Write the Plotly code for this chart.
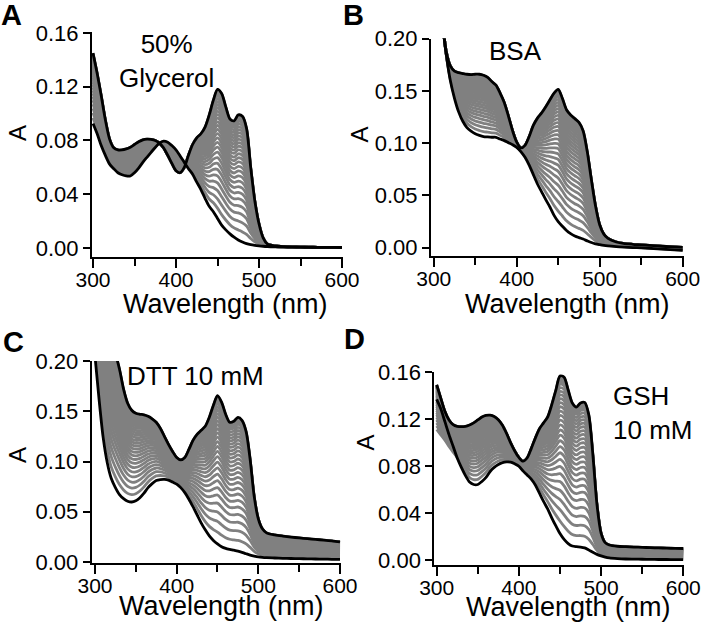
import plotly.graph_objects as go

# ---------------- data ----------------
wavelength = [300, 305, 310, 315, 320, 325, 330, 335, 340, 345, 350, 355, 360, 365, 370,
              375, 380, 385, 390, 395, 400, 405, 410, 415, 420, 425, 430, 435, 440, 445,
              450, 455, 460, 465, 470, 475, 480, 485, 490, 495, 500, 505, 510, 520, 530,
              540, 550, 560, 570, 580, 590, 600]

# Panel A: 50% glycerol
glycerol_peaked = [0.145, 0.130, 0.113, 0.095, 0.081, 0.0745, 0.073, 0.073, 0.0737, 0.075, 0.077, 0.079, 0.0805, 0.081, 0.0808,
                   0.080, 0.078, 0.0745, 0.069, 0.063, 0.0575, 0.056, 0.060, 0.069, 0.077, 0.082, 0.085, 0.090, 0.099, 0.110,
                   0.118, 0.115, 0.105, 0.096, 0.0946, 0.099, 0.098, 0.089, 0.060, 0.035, 0.018, 0.0075, 0.003, 0.0015, 0.001,
                   0.0008, 0.0007, 0.0006, 0.0005, 0.0005, 0.0004, 0.0004]
glycerol_flat = [0.0926, 0.085, 0.076, 0.0687, 0.0624, 0.059, 0.056, 0.0545, 0.0536, 0.0536, 0.056, 0.0595, 0.0637, 0.0675, 0.0712,
                 0.0748, 0.078, 0.0795, 0.0787, 0.0762, 0.073, 0.0685, 0.0637, 0.059, 0.0549, 0.049, 0.0435, 0.037, 0.031, 0.027,
                 0.022, 0.017, 0.0135, 0.0105, 0.008, 0.006, 0.0045, 0.0033, 0.0025, 0.002, 0.0016, 0.0013, 0.0011, 0.0009, 0.0008,
                 0.0007, 0.0006, 0.0005, 0.0005, 0.0004, 0.0004, 0.0003]

# Panel B: BSA
bsa_peaked = [0.27, 0.245, 0.218, 0.188, 0.174, 0.169, 0.1675, 0.1667, 0.166, 0.1657, 0.166, 0.166, 0.165, 0.163, 0.159,
              0.1556, 0.148, 0.139, 0.126, 0.112, 0.101, 0.0955, 0.098, 0.1064, 0.117, 0.124, 0.129, 0.135, 0.1415, 0.148,
              0.1515, 0.143, 0.132, 0.127, 0.1235, 0.120, 0.112, 0.092, 0.065, 0.040, 0.022, 0.013, 0.009, 0.0055, 0.004,
              0.0033, 0.0028, 0.0022, 0.0017, 0.0012, 0.0008, 0.0003]
bsa_flat = [0.27, 0.245, 0.218, 0.185, 0.160, 0.143, 0.130, 0.121, 0.115, 0.1115, 0.109, 0.1075, 0.1064, 0.106, 0.1057,
            0.1057, 0.104, 0.1025, 0.1005, 0.0985, 0.096, 0.092, 0.0865, 0.079, 0.070, 0.061, 0.0535, 0.046, 0.039, 0.031,
            0.025, 0.0206, 0.0165, 0.0135, 0.0113, 0.0097, 0.0083, 0.0066, 0.005, 0.0038, 0.003, 0.0023, 0.0018, 0.0011, 0.0006,
            0.0002, -0.0001, -0.0005, -0.001, -0.0015, -0.002, -0.0025]

# Panel C: DTT 10 mM
dtt_peaked = [0.33, 0.30, 0.27, 0.245, 0.225, 0.208, 0.192, 0.172, 0.158, 0.151, 0.148, 0.147, 0.1465, 0.145, 0.1425,
              0.139, 0.133, 0.125, 0.117, 0.110, 0.104, 0.1016, 0.104, 0.112, 0.121, 0.127, 0.131, 0.135, 0.144, 0.156,
              0.1655, 0.159, 0.147, 0.139, 0.140, 0.1439, 0.141, 0.130, 0.102, 0.065, 0.043, 0.033, 0.029, 0.027, 0.0258,
              0.0248, 0.024, 0.0232, 0.0225, 0.0218, 0.021, 0.020]
dtt_flat = [0.205, 0.162, 0.124, 0.099, 0.083, 0.074, 0.067, 0.063, 0.0605, 0.0597, 0.061, 0.064, 0.0685, 0.074, 0.078,
            0.081, 0.082, 0.0822, 0.0815, 0.0795, 0.0775, 0.074, 0.069, 0.0625, 0.055, 0.047, 0.039, 0.032, 0.026, 0.0215,
            0.018, 0.0152, 0.0135, 0.0125, 0.0117, 0.0108, 0.0096, 0.0082, 0.0069, 0.0059, 0.0051, 0.0046, 0.0043, 0.004, 0.0037,
            0.0035, 0.0033, 0.0032, 0.003, 0.0029, 0.0027, 0.0026]

# Panel D: GSH 10 mM
gsh_peaked = [0.1495, 0.138, 0.1268, 0.1195, 0.1155, 0.114, 0.1137, 0.114, 0.1152, 0.117, 0.1195, 0.122, 0.1234, 0.1236, 0.1225,
              0.1197, 0.115, 0.108, 0.100, 0.093, 0.0875, 0.0843, 0.087, 0.095, 0.104, 0.112, 0.117, 0.122, 0.1325, 0.145,
              0.157, 0.156, 0.145, 0.134, 0.1305, 0.134, 0.1345, 0.124, 0.090, 0.0474, 0.023, 0.0148, 0.0128, 0.0117, 0.0113,
              0.011, 0.0108, 0.0105, 0.0103, 0.0101, 0.0099, 0.0098]
gsh_flat = [0.137, 0.129, 0.118, 0.107, 0.097, 0.087, 0.079, 0.072, 0.0665, 0.0644, 0.0644, 0.067, 0.0705, 0.0755, 0.079,
            0.0814, 0.083, 0.0837, 0.0835, 0.082, 0.080, 0.076, 0.0725, 0.069, 0.064, 0.057, 0.050, 0.0435, 0.036, 0.029,
            0.0225, 0.0175, 0.014, 0.0119, 0.0113, 0.011, 0.0103, 0.0085, 0.0065, 0.0048, 0.0035, 0.0024, 0.0017, 0.0011, 0.0008,
            0.0007, 0.0006, 0.0005, 0.0004, 0.0004, 0.0003, 0.0003]
# lowest grey trace in panel D (lies below the black trace at short wavelengths)
gsh_grey_low = [0.108, 0.104, 0.100, 0.095, 0.090, 0.085, 0.079, 0.072, 0.0665, 0.0644, 0.0644, 0.067, 0.0705, 0.0755, 0.079,
                0.0814, 0.083, 0.0837, 0.0835, 0.082, 0.080, 0.076, 0.0725, 0.069, 0.064, 0.057, 0.050, 0.0435, 0.036, 0.029,
                0.0225, 0.0175, 0.014, 0.0119, 0.0113, 0.011, 0.0103, 0.0085, 0.0065, 0.0048, 0.0035, 0.0024, 0.0017, 0.0011, 0.0008,
                0.0007, 0.0006, 0.0005, 0.0004, 0.0004, 0.0003, 0.0003]

# relative position of each intermediate grey spectrum between the two black spectra
grey_position = [0.080, 0.152, 0.216, 0.275, 0.330, 0.380, 0.427, 0.471, 0.513, 0.552, 0.589, 0.624,
                 0.657, 0.689, 0.720, 0.749, 0.777, 0.804, 0.830, 0.855, 0.879, 0.902, 0.925, 0.947,
                 0.955, 0.962, 0.969, 0.976, 0.983, 0.990, 0.996]

x_tickvals = [300, 400, 500, 600]
x_minor_tickvals = [350, 450, 550]
y_ticks_016 = [0.00, 0.04, 0.08, 0.12, 0.16]
y_ticks_020 = [0.00, 0.05, 0.10, 0.15, 0.20]

panel_letters = ["A", "B", "C", "D"]
panel_notes = ["50%<br>Glycerol", "BSA", "DTT 10 mM", "GSH<br>10 mM"]
x_title = "Wavelength (nm)"
y_title = "A"

# ---------------- figure ----------------
W, H = 702, 622
FONT = "Liberation Sans, Arial, Helvetica, sans-serif"
GREY = "#808080"


def px(x):
    return x / W


def py(y):
    return 1 - y / H


panels = [
    dict(top=glycerol_peaked, black=glycerol_flat, base=glycerol_flat,
         xd=(92, 342.5), yd=(32, 257), xr=[298.8, 600.6], yr=[-0.0067, 0.1607], yt=y_ticks_016),
    dict(top=bsa_peaked, black=bsa_flat, base=bsa_flat,
         xd=(431, 683.5), yd=(38.5, 256), xr=[296.7, 601.0], yr=[-0.0079, 0.2002], yt=y_ticks_020),
    dict(top=dtt_peaked, black=dtt_flat, base=dtt_flat,
         xd=(91.7, 340.5), yd=(361, 563), xr=[296.0, 600.6], yr=[-0.001, 0.2], yt=y_ticks_020),
    dict(top=gsh_peaked, black=gsh_flat, base=gsh_grey_low,
         xd=(434.3, 683.6), yd=(372, 565), xr=[297.1, 600.4], yr=[-0.0043, 0.1604], yt=y_ticks_016),
]

fig = go.Figure()
layout = dict(template="none", width=W, height=H,
              margin=dict(l=0, r=0, t=0, b=0, autoexpand=False),
              paper_bgcolor="white", plot_bgcolor="white", showlegend=False,
              font=dict(family=FONT, color="black"))

for i, p in enumerate(panels):
    sfx = "" if i == 0 else str(i + 1)
    xa, ya = "x" + sfx, "y" + sfx
    for f in grey_position:
        yy = [b + f * (t - b) for t, b in zip(p["top"], p["base"])]
        fig.add_trace(go.Scatter(x=wavelength, y=yy, mode="lines", xaxis=xa, yaxis=ya,
                                 line=dict(color=GREY, width=2.8, shape="spline", smoothing=0.8),
                                 hoverinfo="skip"))
    for curve in (p["black"], p["top"]):
        fig.add_trace(go.Scatter(x=wavelength, y=curve, mode="lines", xaxis=xa, yaxis=ya,
                                 line=dict(color="black", width=2.8, shape="spline", smoothing=0.8),
                                 hoverinfo="skip"))
    layout["xaxis" + sfx] = dict(
        domain=[px(p["xd"][0]), px(p["xd"][1])], range=p["xr"], anchor=ya, automargin=False,
        showline=True, linecolor="black", linewidth=2, showgrid=False, zeroline=False,
        ticks="outside", ticklen=9, tickwidth=2, tickcolor="black", ticklabelstandoff=-6,
        tickvals=x_tickvals, ticktext=[str(v) for v in x_tickvals],
        tickfont=dict(size=21, family=FONT, color="black"),
        minor=dict(tickvals=x_minor_tickvals, ticks="outside", ticklen=7, tickwidth=2,
                   tickcolor="black", showgrid=False),
    )
    layout["yaxis" + sfx] = dict(
        domain=[py(p["yd"][1]), py(p["yd"][0])], range=p["yr"], anchor=xa, automargin=False,
        showline=True, linecolor="black", linewidth=2, showgrid=False, zeroline=False,
        ticks="outside", ticklen=7, tickwidth=2, tickcolor="black",
        tickvals=p["yt"], ticktext=["%.2f" % v for v in p["yt"]],
        tickfont=dict(size=22, family=FONT, color="black"),
    )

ann = []
for letter, (x, y) in zip(panel_letters, [(-1, 15), (341, 15), (1, 342), (342, 339)]):
    ann.append(dict(text="<b>%s</b>" % letter, x=px(x), y=py(y), xref="paper", yref="paper",
                    xanchor="left", yanchor="middle", showarrow=False,
                    font=dict(size=29, family=FONT, color="black")))
for (x, y) in [(18, 133), (359.5, 135), (17, 455), (364.5, 443)]:
    ann.append(dict(text=y_title, x=px(x), y=py(y), xref="paper", yref="paper", textangle=-90,
                    xanchor="center", yanchor="middle", showarrow=False,
                    font=dict(size=24, family=FONT, color="black")))
for (x, y) in [(225, 304), (567.5, 304), (221.5, 605.5), (568.5, 607)]:
    ann.append(dict(text=x_title, x=px(x), y=py(y), xref="paper", yref="paper",
                    xanchor="center", yanchor="middle", showarrow=False,
                    font=dict(size=27, family=FONT, color="black")))
note_pos = [(166, 61, "center"), (515.5, 51, "center"), (195.8, 376, "center"), (611, 413, "left")]
for text, (x, y, al) in zip(panel_notes, note_pos):
    ann.append(dict(text=text, x=px(x), y=py(y), xref="paper", yref="paper",
                    xanchor=al, yanchor="middle", align=al, showarrow=False,
                    font=dict(size=26, family=FONT, color="black")))

layout["annotations"] = ann
fig.update_layout(**layout)
fig.write_html("out.html", config={"displayModeBar": False},
               post_script="document.body.style.margin='0';document.body.style.overflow='hidden';")
